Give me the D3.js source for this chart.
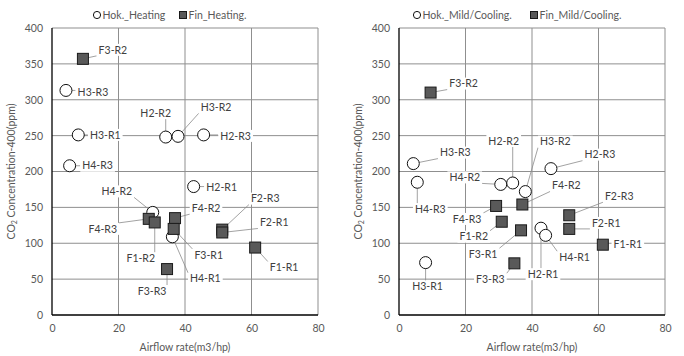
<!DOCTYPE html>
<html><head><meta charset="utf-8">
<script src="https://cdn.jsdelivr.net/npm/d3@7"></script>
<style>body{margin:0;background:#fff}text{font-family:Lato,"Liberation Sans",sans-serif}</style></head>
<body><svg id="c" width="684" height="356"></svg>
<script>
// ---- data ----
const xTicks = [0, 20, 40, 60, 80];
const yTicks = [0, 50, 100, 150, 200, 250, 300, 350, 400];
const xTitle = "Airflow rate(m3/hp)";

const heatHokName = "Hok._Heating";
const heatFinName = "Fin_Heating.";
const heatHokLabels = ["H3-R3","H3-R1","H2-R2","H3-R2","H2-R3","H4-R3","H2-R1","H4-R2","H4-R1"];
const heatHokX = [4.2, 7.9, 34.2, 37.9, 45.6, 5.3, 42.6, 30.3, 36.2];
const heatHokY = [313, 251, 248, 249, 251, 208, 179, 143, 109];
const heatFinLabels = ["F3-R2","F4-R3","F1-R2","F4-R2","F3-R1","F2-R3","F2-R1","F1-R1","F3-R3"];
const heatFinX = [9.3, 29.1, 30.9, 37.0, 36.6, 51.2, 51.2, 61.1, 34.6];
const heatFinY = [357, 134, 129, 135, 120, 119, 115, 94, 64];

const mildHokName = "Hok._Mild/Cooling.";
const mildFinName = "Fin_Mild/Cooling.";
const mildHokLabels = ["H3-R3","H4-R3","H4-R2","H2-R2","H3-R2","H2-R3","H2-R1","H4-R1","H3-R1"];
const mildHokX = [4.3, 5.5, 30.6, 34.2, 38.0, 45.7, 42.7, 44.1, 8.0];
const mildHokY = [211, 185, 182, 184, 172, 204, 121, 111, 73];
const mildFinLabels = ["F3-R2","F4-R3","F4-R2","F1-R2","F3-R1","F2-R3","F2-R1","F1-R1","F3-R3"];
const mildFinX = [9.5, 29.2, 37.1, 30.9, 36.7, 51.2, 51.2, 61.3, 34.7];
const mildFinY = [310, 152, 154, 130, 118, 139, 120, 98, 72];

// ---- label layout (pixel offsets of label centre from its marker) ----
const heatHokOff = {"H3-R3":[27,2],"H3-R1":[27,0],"H2-R2":[-10,-24],"H3-R2":[38,-29],"H2-R3":[32,1],
  "H4-R3":[28,0],"H2-R1":[28,1],"H4-R2":[-36,-21],"H4-R1":[33,42]};
const heatFinOff = {"F3-R2":[30,-9],"F4-R3":[-46,10],"F1-R2":[-14,36],"F4-R2":[31,-10],"F3-R1":[35,26],
  "F2-R3":[43,-31],"F2-R1":[52,-10],"F1-R1":[29,20],"F3-R3":[-15,22]};
const mildHokOff = {"H3-R3":[42,-11],"H4-R3":[13,27],"H4-R2":[-36,-7],"H2-R2":[-9,-42],"H3-R2":[30,-50],
  "H2-R3":[49,-14],"H2-R1":[2,46],"H4-R1":[29,22],"H3-R1":[2,24]};
const mildFinOff = {"F3-R2":[33,-9],"F4-R3":[-29,13],"F4-R2":[44,-19],"F1-R2":[-28,15],"F3-R1":[-38,24],
  "F2-R3":[50,-19],"F2-R1":[37,-6],"F1-R1":[25,0],"F3-R3":[-24,16]};

const svg = d3.select("#c");
const TOP = 28, BOTTOM = 315, PW = 266;
const gridCol = "#8f8f8f", tickCol = "#595959", labCol = "#404040";
const FS = "10.5px";

function panel(left, hokName, finName, hok, fin, legX) {
  const x = d3.scaleLinear().domain([0, 80]).range([left, left + PW]);
  const y = d3.scaleLinear().domain([0, 400]).range([BOTTOM, TOP]);
  const g = svg.append("g");

  // gridlines
  g.selectAll(".gx").data(xTicks.slice(1)).enter().append("line")
    .attr("x1", d => x(d)).attr("x2", d => x(d)).attr("y1", TOP).attr("y2", BOTTOM)
    .attr("stroke", gridCol).attr("stroke-width", 1);
  g.selectAll(".gy").data(yTicks.slice(1)).enter().append("line")
    .attr("x1", left).attr("x2", left + PW).attr("y1", d => y(d)).attr("y2", d => y(d))
    .attr("stroke", gridCol).attr("stroke-width", 1);

  // axes with tick labels
  const ax = g.append("g").attr("transform", `translate(0,${BOTTOM})`)
    .call(d3.axisBottom(x).tickValues(xTicks).tickSize(0).tickPadding(10));
  const ay = g.append("g").attr("transform", `translate(${left},0)`)
    .call(d3.axisLeft(y).tickValues(yTicks).tickSize(0).tickPadding(9));
  [ax, ay].forEach(a => {
    a.select(".domain").remove();
    a.selectAll("text").attr("fill", tickCol).style("font-size", FS).style("font-family", "Lato");
  });

  // build points
  const pts = [];
  hok.labels.forEach((l, i) => pts.push({type: "h", label: l, cx: x(hok.x[i]), cy: y(hok.y[i]), off: hok.off[l]}));
  fin.labels.forEach((l, i) => pts.push({type: "f", label: l, cx: x(fin.x[i]), cy: y(fin.y[i]), off: fin.off[l]}));

  const leadG = g.append("g"), labG = g.append("g"), markG = g.append("g");
  pts.forEach(p => {
    const lx = p.cx + p.off[0], ly = p.cy + p.off[1];
    const lg = labG.append("g");
    const rect = lg.append("rect").attr("fill", "#fff");
    const t = lg.append("text").attr("x", lx).attr("y", ly).attr("dy", "0.35em")
      .attr("text-anchor", "middle").attr("fill", labCol).style("font-size", FS).text(p.label);
    const w = t.node().getComputedTextLength() + 4, h = 12;
    rect.attr("x", lx - w / 2).attr("y", ly - h / 2).attr("width", w).attr("height", h);
    const px = Math.max(lx - w / 2, Math.min(lx + w / 2, p.cx));
    const py = Math.max(ly - h / 2, Math.min(ly + h / 2, p.cy));
    if (Math.hypot(px - p.cx, py - p.cy) > 9) {
      leadG.append("line").attr("x1", p.cx).attr("y1", p.cy).attr("x2", px).attr("y2", py)
        .attr("stroke", "#8a8a8a").attr("stroke-width", 0.8);
    }
  });

  // markers: circles then squares
  markG.selectAll("circle").data(pts.filter(p => p.type === "h")).enter().append("circle")
    .attr("cx", d => d.cx).attr("cy", d => d.cy).attr("r", 6)
    .attr("fill", "#fff").attr("stroke", "#111").attr("stroke-width", 1);
  markG.selectAll("rect").data(pts.filter(p => p.type === "f")).enter().append("rect")
    .attr("x", d => d.cx - 5.5).attr("y", d => d.cy - 5.5).attr("width", 11).attr("height", 11)
    .attr("fill", "#595959").attr("stroke", "#1a1a1a").attr("stroke-width", 1);

  // axis lines
  g.append("line").attr("x1", left).attr("x2", left).attr("y1", TOP).attr("y2", BOTTOM)
    .attr("stroke", "#000").attr("stroke-width", 1.3);
  g.append("line").attr("x1", left).attr("x2", left + PW).attr("y1", BOTTOM).attr("y2", BOTTOM)
    .attr("stroke", "#000").attr("stroke-width", 1.3);

  // titles
  g.append("text").attr("x", left + PW / 2).attr("y", 351).attr("text-anchor", "middle")
    .attr("fill", tickCol).style("font-size", FS).text(xTitle);
  const yt = g.append("text").attr("transform", `translate(${left - 37},${(TOP + BOTTOM) / 2}) rotate(-90)`)
    .attr("text-anchor", "middle").attr("fill", tickCol).style("font-size", FS);
  yt.append("tspan").text("CO");
  yt.append("tspan").text("2").style("font-size", "7px").attr("dy", 2);
  yt.append("tspan").text(" Concentration-400(ppm)").attr("dy", -2);

  // legend
  const lgd = g.append("g");
  lgd.append("circle").attr("cx", legX[0]).attr("cy", 15).attr("r", 3.6)
    .attr("fill", "#fff").attr("stroke", "#111").attr("stroke-width", 1);
  lgd.append("text").attr("x", legX[0] + 5.5).attr("y", 15).attr("dy", "0.35em")
    .attr("fill", tickCol).style("font-size", FS).text(hokName);
  lgd.append("rect").attr("x", legX[1] - 3.5).attr("y", 11.5).attr("width", 7).attr("height", 7)
    .attr("fill", "#595959").attr("stroke", "#1a1a1a").attr("stroke-width", 1);
  lgd.append("text").attr("x", legX[1] + 5.5).attr("y", 15).attr("dy", "0.35em")
    .attr("fill", tickCol).style("font-size", FS).text(finName);
}

panel(52, heatHokName, heatFinName,
  {labels: heatHokLabels, x: heatHokX, y: heatHokY, off: heatHokOff},
  {labels: heatFinLabels, x: heatFinX, y: heatFinY, off: heatFinOff}, [97, 183]);
panel(399, mildHokName, mildFinName,
  {labels: mildHokLabels, x: mildHokX, y: mildHokY, off: mildHokOff},
  {labels: mildFinLabels, x: mildFinX, y: mildFinY, off: mildFinOff}, [417, 534]);
</script>
</body></html>
